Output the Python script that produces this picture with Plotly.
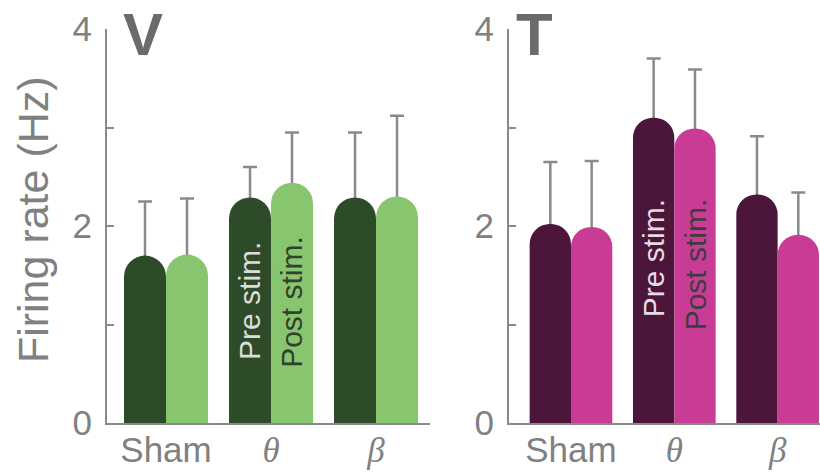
import plotly.graph_objects as go

# Firing rate (Hz) per condition, before and after stimulation
conditions = ["Sham", "θ", "β"]
tick_labels = ["Sham",
               "<span style='font-family:Liberation Serif'><i>θ</i></span>",
               "<span style='font-family:Liberation Serif'><i>β</i></span>"]

v_pre = [1.70, 2.29, 2.29]
v_post = [1.71, 2.44, 2.30]
v_pre_err = [0.55, 0.31, 0.66]
v_post_err = [0.57, 0.51, 0.82]

t_pre = [2.02, 3.10, 2.32]
t_post = [1.99, 2.99, 1.91]
t_pre_err = [0.63, 0.60, 0.59]
t_post_err = [0.67, 0.60, 0.43]

y_ticks = [0, 1, 2, 3, 4]
y_tick_text = ["0", "", "2", "", "4"]

GRAY = "#8a8a8a"
TEXT_GRAY = "#808080"
FONT = "Liberation Sans"

panels = [
    dict(name="V", xa="x", ya="y", pre=v_pre, post=v_post,
         pre_err=v_pre_err, post_err=v_post_err,
         c_pre="#2d4b28", c_post="#87c66e"),
    dict(name="T", xa="x2", ya="y2", pre=t_pre, post=t_post,
         pre_err=t_pre_err, post_err=t_post_err,
         c_pre="#4b163a", c_post="#c83c96"),
]

xpos = list(range(len(conditions)))
BW = 0.4

fig = go.Figure()
for p in panels:
    # error bars first (on transparent bars) so the coloured bars hide the lower whisker
    for vals, errs, off in ((p["pre"], p["pre_err"], -BW), (p["post"], p["post_err"], 0.0)):
        fig.add_trace(go.Bar(
            x=xpos, y=vals, width=BW, offset=off, xaxis=p["xa"], yaxis=p["ya"],
            marker=dict(color="rgba(0,0,0,0)", line=dict(width=0)),
            error_y=dict(type="data", array=errs, symmetric=True,
                         color=GRAY, thickness=2.5, width=7),
            showlegend=False, hoverinfo="skip"))
    for vals, col, off, nm in ((p["pre"], p["c_pre"], -BW, "Pre stim."),
                               (p["post"], p["c_post"], 0.0, "Post stim.")):
        fig.add_trace(go.Bar(
            x=xpos, y=vals, width=BW, offset=off, xaxis=p["xa"], yaxis=p["ya"],
            name=nm, marker=dict(color=col, line=dict(width=0), cornerradius="50%"),
            showlegend=False))

axis_common = dict(showgrid=False, zeroline=False, showline=True,
                   linecolor=GRAY, linewidth=2)

xaxis_common = dict(axis_common, tickmode="array", tickvals=xpos, ticktext=tick_labels,
                    ticks="", ticklabelstandoff=-5,
                    tickfont=dict(family=FONT, size=35, color=TEXT_GRAY))
yaxis_common = dict(axis_common, range=[0, 4], tickmode="array", tickvals=y_ticks,
                    ticktext=y_tick_text, ticks="inside", ticklen=7, tickwidth=2,
                    tickcolor=GRAY, ticklabelstandoff=6,
                    tickfont=dict(family=FONT, size=35, color=TEXT_GRAY))

fig.update_layout(
    width=820, height=475,
    margin=dict(l=0, r=0, t=29, b=52),
    paper_bgcolor="white", plot_bgcolor="white",
    barmode="overlay", showlegend=False,
    xaxis=dict(xaxis_common, domain=[107 / 820, 430 / 820], range=[-0.562, 2.514]),
    yaxis=dict(yaxis_common, anchor="x"),
    xaxis2=dict(xaxis_common, domain=[509 / 820, 1.0], range=[-0.6, 2.41]),
    yaxis2=dict(yaxis_common, anchor="x2"),
)

# panel letters sit at the very top of the page
top_y = 423 / 394

annotations = [
    dict(text="Firing rate (Hz)", xref="paper", yref="paper", x=33 / 820, y=0.515,
         textangle=-90, showarrow=False, xanchor="center", yanchor="middle",
         font=dict(family=FONT, size=43, color=TEXT_GRAY)),
    dict(text="<b>V</b>", xref="paper", yref="paper", x=122 / 820, y=top_y,
         showarrow=False, xanchor="left", yanchor="top", borderpad=0,
         font=dict(family=FONT, size=60, color="#6b6b6e")),
    dict(text="<b>T</b>", xref="paper", yref="paper", x=515 / 820, y=top_y,
         showarrow=False, xanchor="left", yanchor="top", borderpad=0,
         font=dict(family=FONT, size=60, color="#6b6b6e")),
    dict(text="Pre stim.", xref="x", yref="y", x=1 - BW / 2, y=0.62,
         textangle=-90, showarrow=False, xanchor="center", yanchor="bottom",
         font=dict(family=FONT, size=30, color="#dcdcdc")),
    dict(text="Post stim.", xref="x", yref="y", x=1 + BW / 2, y=0.54,
         textangle=-90, showarrow=False, xanchor="center", yanchor="bottom",
         font=dict(family=FONT, size=30, color="#33402f")),
    dict(text="Pre stim.", xref="x2", yref="y2", x=1 - BW / 2, y=1.05,
         textangle=-90, showarrow=False, xanchor="center", yanchor="bottom",
         font=dict(family=FONT, size=30, color="#e4dce2")),
    dict(text="Post stim.", xref="x2", yref="y2", x=1 + BW / 2, y=0.92,
         textangle=-90, showarrow=False, xanchor="center", yanchor="bottom",
         font=dict(family=FONT, size=30, color="#3d3d3d")),
]
fig.update_layout(annotations=annotations)

fig.write_html("out.html")
